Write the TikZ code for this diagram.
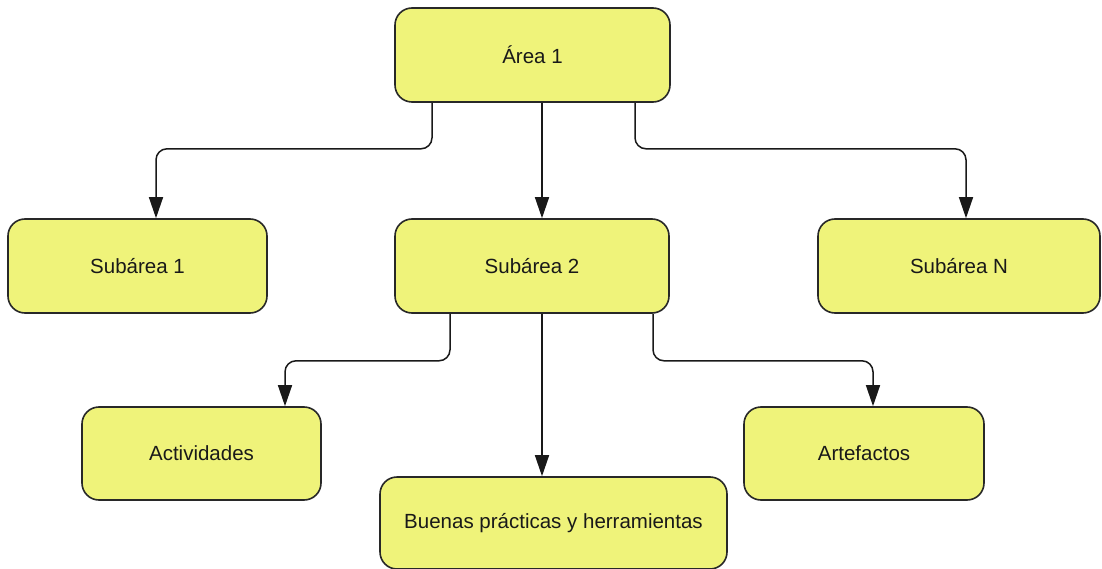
\documentclass[tikz,border=0pt]{standalone}
\usepackage{fontspec}
\setmainfont{Liberation Sans}
\usetikzlibrary{arrows.meta}
\definecolor{boxfill}{RGB}{239,243,122}
\definecolor{boxline}{RGB}{40,40,40}
\tikzset{
  box/.style={draw=boxline, line width=1.6pt, fill=boxfill, rounded corners=17pt,
    inner sep=0pt, font=\fontsize{20.5}{23}\selectfont, text=black!90},
  link/.style={draw=black!90, line width=1.5pt, rounded corners=11pt,
    -{Triangle[length=21pt,width=14pt]}}
}
\begin{document}
\begin{tikzpicture}[x=1pt,y=-1pt]
\useasboundingbox (0,0) rectangle (1102,569);
% hierarchy boxes
\node[box, minimum width=275pt, minimum height=94pt] (area) at (532.5,55) {Área 1};
\node[box, minimum width=259pt, minimum height=94pt] (sub1) at (137.5,266) {Subárea 1};
\node[box, minimum width=274pt, minimum height=94pt] (sub2) at (532,266) {Subárea 2};
\node[box, minimum width=282pt, minimum height=94pt] (subN) at (959,266) {Subárea N};
\node[box, minimum width=239pt, minimum height=93pt] (act) at (201.5,453.5) {Actividades};
\node[box, minimum width=347pt, minimum height=92pt] (buenas) at (553.5,523) {Buenas prácticas y herramientas};
\node[box, minimum width=240pt, minimum height=93pt] (art) at (864,453.5) {Artefactos};
% connectors from the area to its subareas
\draw[link] ([xshift=-100.5pt]area.south) -- ++(0,46) -| ([xshift=18.5pt]sub1.north);
\draw[link] ([xshift=9.5pt]area.south) -- ([xshift=10pt]sub2.north);
\draw[link] ([xshift=102.5pt]area.south) -- ++(0,46) -| ([xshift=7pt]subN.north);
% connectors from subarea 2 to its contents
\draw[link] ([xshift=-82pt]sub2.south) -- ++(0,47) -| ([xshift=83.5pt]act.north);
\draw[link] ([xshift=10pt]sub2.south) -- ([xshift=-11.5pt]buenas.north);
\draw[link] ([xshift=121pt]sub2.south) -- ++(0,47) -| ([xshift=9pt]art.north);
\end{tikzpicture}
\end{document}
